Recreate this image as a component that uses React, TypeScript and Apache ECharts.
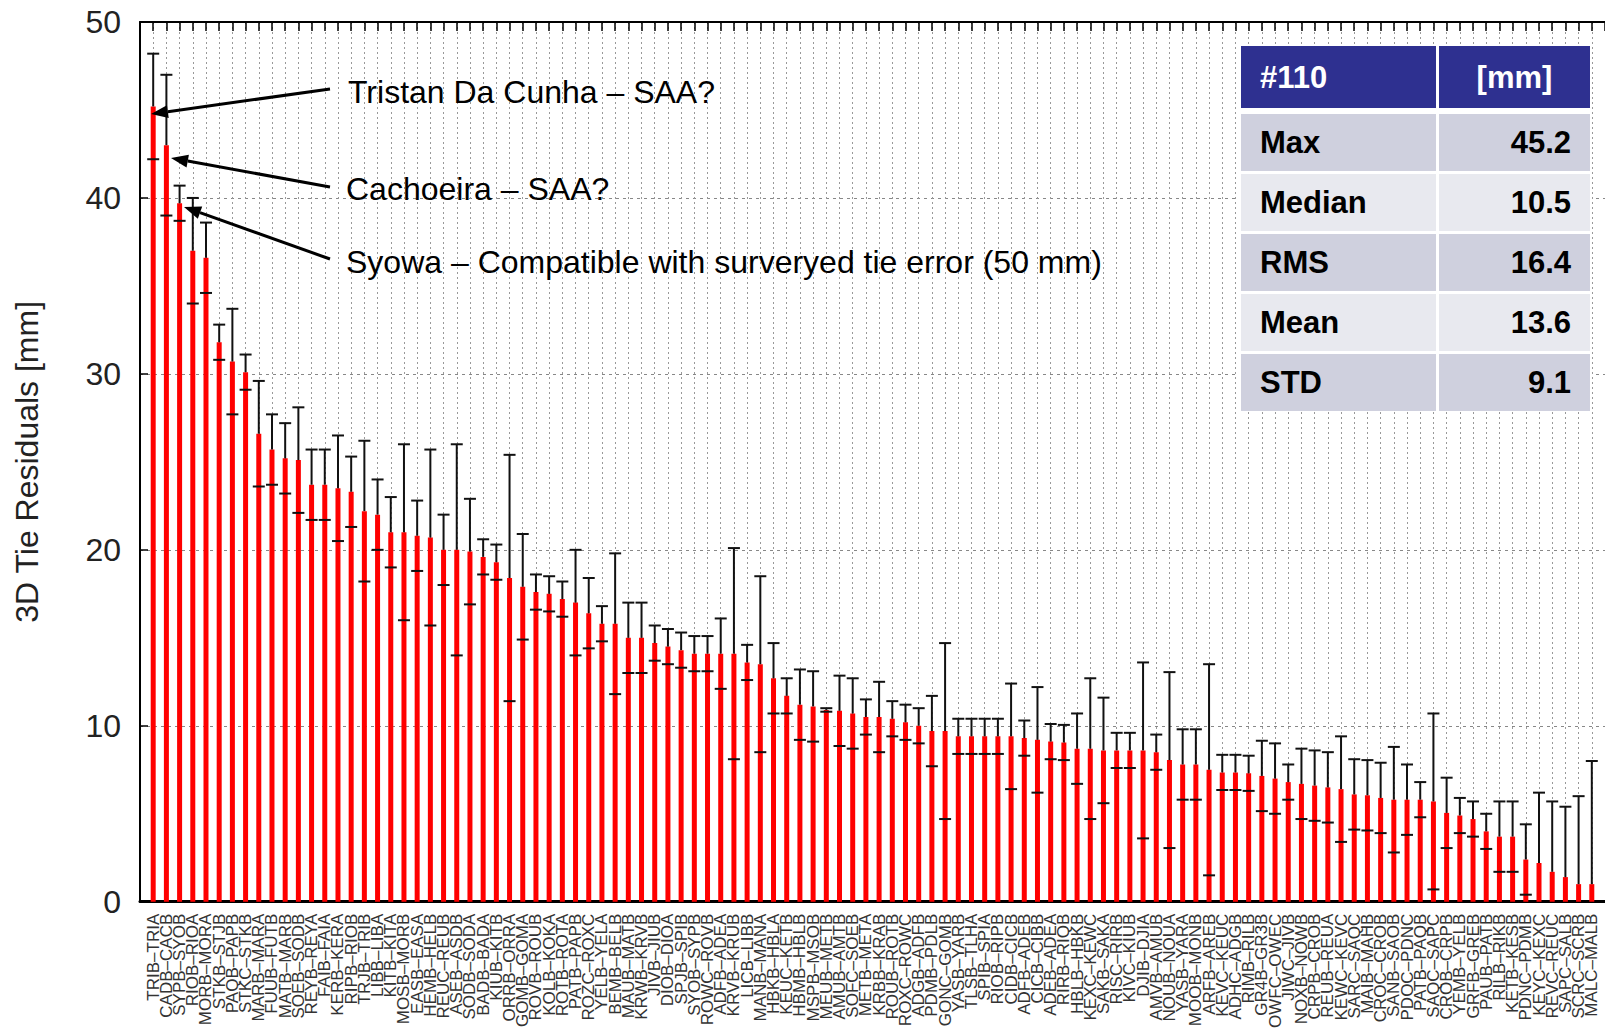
import React, { useEffect, useRef } from "react";
import * as echarts from "echarts";

const xLabels = [
  "TRIB–TRIA", "CADB–CACB", "SYPB–SYOB", "RIOB–RIOA", "MORB–MORA", "STKB–STJB", "PAQB–PAPB", "STKC–STKB", "MARB–MARA", "FUUB–FUTB",
  "MATB–MARB", "SOEB–SODB", "REYB–REYA", "FAIB–FAIA", "KERB–KERA", "RIPB–RIOB", "TRJB–TRIB", "LIBB–LIBA", "KITB–KITA", "MOSB–MORB",
  "EASB–EASA", "HEMB–HELB", "REUC–REUB", "ASEB–ASDB", "SODB–SODA", "BADB–BADA", "KIUB–KITB", "ORRB–ORRA", "GOMB–GOMA", "ROVB–ROUB",
  "KOLB–KOKA", "ROTB–ROTA", "PATB–PAPB", "ROZC–ROXC", "YELB–YELA", "BEMB–BELB", "MAUB–MATB", "KRWB–KRVB", "JIVB–JIUB", "DIOB–DIOA",
  "SPJB–SPIB", "SYOB–SYPB", "ROWC–ROVB", "ADFB–ADEA", "KRVB–KRUB", "LICB–LIBB", "MANB–MANA", "HBKB–HBLA", "KEUC–KETB", "HBMB–HBLB",
  "MSPB–MSOB", "MEUB–METB", "AMUB–AMTB", "SOFC–SOEB", "METB–META", "KRBB–KRAB", "ROUB–ROTB", "ROXC–ROWC", "ADGB–ADFB", "PDMB–PDLB",
  "GONC–GOMB", "YASB–YARB", "TLSB–TLHA", "SPIB–SPIA", "RIOB–RIPB", "CIDB–CICB", "ADFB–ADEB", "CICB–CIBB", "ADEB–ADEA", "RIRB–RIQB",
  "HBLB–HBKB", "KEXC–KEWC", "SAKB–SAKA", "RISC–RIRB", "KIVC–KIUB", "DJIB–DJIA", "AMVB–AMUB", "NOUB–NOUA", "YASB–YARA", "MOOB–MONB",
  "ARFB–AREB", "KEVC–KEUC", "ADHC–ADGB", "RIMB–RILB", "GR4B–GR3B", "OWFC–OWEC", "JIWC–JIVB", "NOXB–NOWB", "CRPB–CROB", "REUB–REUA",
  "KEWC–KEVC", "SARC–SAQC", "MAIB–MAHB", "CROC–CROB", "SANB–SAOB", "PDOC–PDNC", "PATB–PAQB", "SAQC–SAPC", "CROB–CRPB", "YEMB–YELB",
  "GRFB–GREB", "PAUB–PATB", "RILB–RIKB", "KETB–KESB", "PDNC–PDMB", "KEYC–KEXC", "REVC–REUC", "SAPC–SALB", "SCRC–SCRB", "MALC–MALB",
];

const residuals = [
  45.2, 43.0, 39.7, 37.0, 36.6, 31.8, 30.7, 30.1, 26.6, 25.7,
  25.2, 25.1, 23.7, 23.7, 23.5, 23.3, 22.2, 22.0, 21.0, 21.0,
  20.8, 20.7, 20.0, 20.0, 19.9, 19.6, 19.3, 18.4, 17.9, 17.6,
  17.5, 17.2, 17.0, 16.4, 15.8, 15.8, 15.0, 15.0, 14.7, 14.5,
  14.3, 14.1, 14.1, 14.1, 14.1, 13.6, 13.5, 12.7, 11.7, 11.2,
  11.1, 10.9, 10.85, 10.7, 10.5, 10.5, 10.4, 10.2, 10.0, 9.7,
  9.7, 9.4, 9.4, 9.4, 9.4, 9.4, 9.3, 9.2, 9.1, 9.05,
  8.7, 8.7, 8.6, 8.6, 8.6, 8.6, 8.5, 8.05, 7.8, 7.8,
  7.5, 7.35, 7.35, 7.3, 7.15, 7.0, 6.8, 6.7, 6.6, 6.5,
  6.4, 6.1, 6.05, 5.9, 5.8, 5.8, 5.8, 5.7, 5.05, 4.9,
  4.7, 4.0, 3.7, 3.7, 2.4, 2.2, 1.7, 1.4, 1.0, 1.0,
];

const errors = [
  3, 4, 1, 3, 2, 1, 3, 1, 3, 2,
  2, 3, 2, 2, 3, 2, 4, 2, 2, 5,
  2, 5, 2, 6, 3, 1, 1, 7, 3, 1,
  1, 1, 3, 2, 1, 4, 2, 2, 1, 1,
  1, 1, 1, 2, 6, 1, 5, 2, 1, 2,
  2, 0.1, 2, 2, 1, 2, 1, 1, 1, 2,
  5, 1, 1, 1, 1, 3, 1, 3, 1, 1,
  2, 4, 3, 1, 1, 5, 1, 5, 2, 2,
  6, 1, 1, 1, 2, 2, 1, 2, 2, 2,
  3, 2, 2, 2, 3, 2, 1, 5, 2, 1,
  1, 1, 2, 2, 2, 4, 4, 4, 5, 7,
];

const yTicks = [0, 10, 20, 30, 40, 50];

const tableHeader = ["#110", "[mm]"];
const statLabels = ["Max", "Median", "RMS", "Mean", "STD"];
const statValues = ["45.2", "10.5", "16.4", "13.6", "9.1"];

const annotations = [
  { text: "Tristan Da Cunha – SAA?", tx: 348, ty: 92, from: [330, 89], to: [151, 114] },
  { text: "Cachoeira – SAA?", tx: 346, ty: 189, from: [330, 187], to: [171, 158] },
  { text: "Syowa – Compatible with surveryed tie error (50 mm)", tx: 346, ty: 262, from: [330, 259], to: [184, 207] },
];

const FONT = "'Liberation Sans', Arial, Helvetica, sans-serif";

function arrowGraphics() {
  const out: any[] = [];
  annotations.forEach((a) => {
    const [x1, y1] = a.from;
    const [x2, y2] = a.to;
    const dx = x2 - x1, dy = y2 - y1;
    const len = Math.sqrt(dx * dx + dy * dy);
    const ux = dx / len, uy = dy / len;
    const hl = 17, hw = 6.5;
    const bx = x2 - ux * hl, by = y2 - uy * hl;
    out.push({
      type: "line",
      shape: { x1, y1, x2: bx, y2: by },
      style: { stroke: "#000", lineWidth: 3 },
      z: 100,
    });
    out.push({
      type: "polygon",
      shape: { points: [[x2, y2], [bx - uy * hw, by + ux * hw], [bx + uy * hw, by - ux * hw]] },
      style: { fill: "#000" },
      z: 100,
    });
    out.push({
      type: "text",
      x: a.tx,
      y: a.ty,
      style: { text: a.text, font: `32px ${FONT}`, fill: "#000", textVerticalAlign: "middle", textAlign: "left" },
      z: 100,
    });
  });
  return out;
}

function tableGraphics() {
  const out: any[] = [];
  const x0 = 1241, c1 = 195, gap = 3, c2 = 151;
  const y0 = 46, hh = 62, rh = 57, step = 60;
  const totalH = hh + gap + statLabels.length * step;
  out.push({ type: "rect", shape: { x: x0 - 2, y: y0 - 2, width: c1 + gap + c2 + 4, height: totalH + 2 }, style: { fill: "#fff" }, z: 90 });
  out.push({ type: "rect", shape: { x: x0, y: y0, width: c1, height: hh }, style: { fill: "#2E3090" }, z: 91 });
  out.push({ type: "rect", shape: { x: x0 + c1 + gap, y: y0, width: c2, height: hh }, style: { fill: "#2E3090" }, z: 91 });
  out.push({ type: "text", x: x0 + 19, y: y0 + hh / 2, style: { text: tableHeader[0], font: `bold 31px ${FONT}`, fill: "#fff", textVerticalAlign: "middle" }, z: 92 });
  out.push({ type: "text", x: x0 + c1 + gap + c2 / 2, y: y0 + hh / 2, style: { text: tableHeader[1], font: `bold 31px ${FONT}`, fill: "#fff", textVerticalAlign: "middle", textAlign: "center" }, z: 92 });
  statLabels.forEach((lab, i) => {
    const y = y0 + hh + gap + 3 + i * step;
    const fill = i % 2 === 0 ? "#CFD0DE" : "#E8E9EF";
    out.push({ type: "rect", shape: { x: x0, y, width: c1, height: rh }, style: { fill }, z: 91 });
    out.push({ type: "rect", shape: { x: x0 + c1 + gap, y, width: c2, height: rh }, style: { fill }, z: 91 });
    out.push({ type: "text", x: x0 + 19, y: y + rh / 2, style: { text: lab, font: `bold 31px ${FONT}`, fill: "#000", textVerticalAlign: "middle" }, z: 92 });
    out.push({ type: "text", x: x0 + c1 + gap + c2 - 19, y: y + rh / 2, style: { text: statValues[i], font: `bold 31px ${FONT}`, fill: "#000", textVerticalAlign: "middle", textAlign: "right" }, z: 92 });
  });
  return out;
}

export default function App() {
  const ref = useRef<HTMLDivElement>(null);
  useEffect(() => {
    document.body.style.margin = "0";
    document.body.style.overflow = "hidden";
    if (!ref.current) return;
    const chart = echarts.init(ref.current, null, { renderer: "svg" });
    const cats = ["", ...xLabels, ""];
    const barData = [null, ...residuals, null];
    const errData = residuals.map((v, i) => [i + 1, v, errors[i]]);

    chart.setOption({
      animation: false,
      backgroundColor: "#fff",
      grid: { left: 140, right: -7, top: 22, bottom: 123, containLabel: false },
      xAxis: [
        {
          type: "category",
          data: cats,
          boundaryGap: false,
          axisLine: { show: true, lineStyle: { color: "#000", width: 3 } },
          axisTick: { show: false },
          axisLabel: {
            interval: 0,
            rotate: 90,
            fontSize: 17,
            fontFamily: FONT,
            color: "#333",
            margin: 12,
          },
          splitLine: { show: true, interval: 0, lineStyle: { color: "#999", type: [2, 3], width: 1 } },
        },
        {
          type: "category",
          data: cats,
          position: "top",
          boundaryGap: false,
          axisLine: { show: true, lineStyle: { color: "#000", width: 2 } },
          axisTick: { show: true, inside: true, interval: 0, length: 9, lineStyle: { color: "#000", width: 1.5 } },
          axisLabel: { show: false },
          splitLine: { show: false },
        },
      ],
      yAxis: {
        type: "value",
        min: yTicks[0],
        max: yTicks[yTicks.length - 1],
        interval: 10,
        name: "3D Tie Residuals [mm]",
        nameLocation: "middle",
        nameGap: 97,
        nameTextStyle: { fontSize: 32, fontFamily: FONT, color: "#222" },
        axisLine: { show: true, lineStyle: { color: "#000", width: 2 } },
        axisTick: { show: true, inside: true, length: 8, lineStyle: { color: "#000", width: 1.5 } },
        axisLabel: { fontSize: 32, fontFamily: FONT, color: "#222", margin: 19 },
        splitLine: { show: true, lineStyle: { color: "#888", type: [3, 4], width: 1 } },
      },
      series: [
        {
          type: "bar",
          data: barData,
          barWidth: 5,
          itemStyle: { color: "#FF0000" },
          z: 2,
        },
        {
          type: "custom",
          data: errData,
          z: 5,
          encode: { x: 0, y: 1 },
          renderItem: (_params: any, api: any) => {
            const x = api.value(0);
            const v = api.value(1);
            const e = api.value(2);
            const base = api.coord([x, v]);
            const top = api.coord([x, v + e]);
            const hw = 6;
            const st = { stroke: "#111", lineWidth: 2 };
            const children: any[] = [
              { type: "line", shape: { x1: base[0], y1: base[1], x2: top[0], y2: top[1] }, style: st },
              { type: "line", shape: { x1: top[0] - hw, y1: top[1], x2: top[0] + hw, y2: top[1] }, style: st },
            ];
            if (v - e >= 0) {
              const low = api.coord([x, v - e]);
              children.push({ type: "line", shape: { x1: low[0] - hw, y1: low[1], x2: low[0] + hw, y2: low[1] }, style: st });
            }
            return { type: "group", children };
          },
        },
      ],
      graphic: [...tableGraphics(), ...arrowGraphics()],
    });
    return () => chart.dispose();
  }, []);
  return <div ref={ref} style={{ position: "fixed", left: 0, top: 0, width: 1605, height: 1031 }} />;
}
